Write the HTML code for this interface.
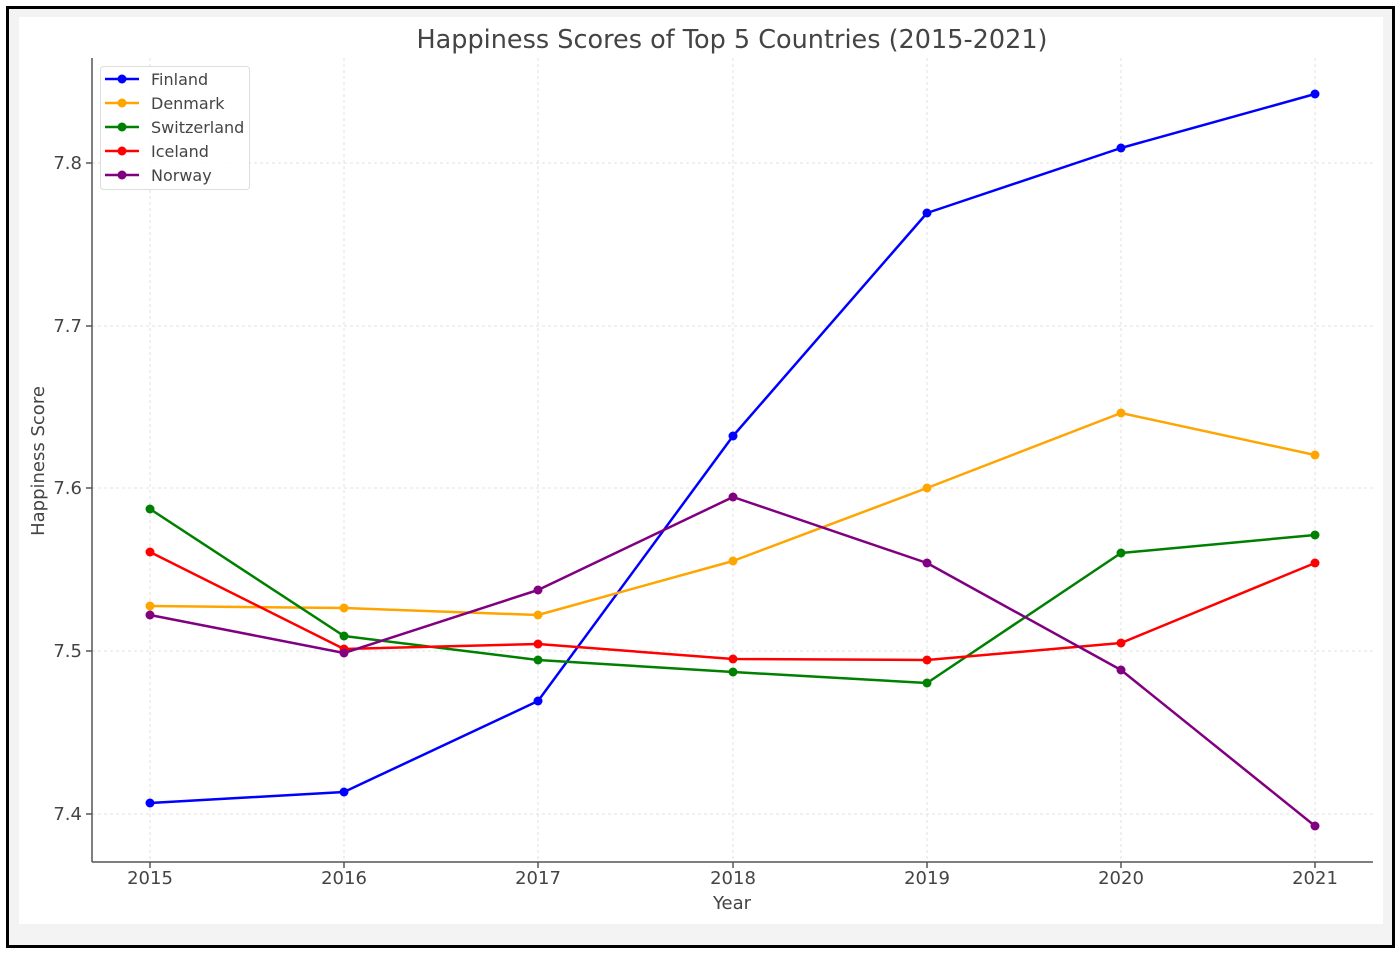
<!DOCTYPE html>
<html><head><meta charset="utf-8"><style>
html,body{margin:0;padding:0;background:#fff;}
svg{display:block;font-family:"DejaVu Sans","Liberation Sans",sans-serif;}
</style></head><body>
<svg width="1400" height="956" viewBox="0 0 1400 956" xmlns="http://www.w3.org/2000/svg">
<rect x="0" y="0" width="1400" height="956" fill="#fff"/>
<rect x="7.5" y="7.5" width="1386" height="939" fill="#f3f3f3" stroke="#000" stroke-width="3"/>
<rect x="19" y="17" width="1364" height="907" fill="#fff"/>
<g stroke="#e2e2e2" stroke-width="1" stroke-dasharray="3,3">
<line x1="150" y1="58" x2="150" y2="862"/><line x1="344" y1="58" x2="344" y2="862"/><line x1="538" y1="58" x2="538" y2="862"/><line x1="733" y1="58" x2="733" y2="862"/><line x1="927" y1="58" x2="927" y2="862"/><line x1="1121" y1="58" x2="1121" y2="862"/><line x1="1315" y1="58" x2="1315" y2="862"/>
<line x1="92" y1="163" x2="1373" y2="163"/><line x1="92" y1="326" x2="1373" y2="326"/><line x1="92" y1="488" x2="1373" y2="488"/><line x1="92" y1="651" x2="1373" y2="651"/><line x1="92" y1="814" x2="1373" y2="814"/>
</g>
<g stroke="#555" stroke-width="1.5">
<line x1="92" y1="58" x2="92" y2="862"/><line x1="92" y1="862" x2="1373" y2="862"/>
<line x1="86" y1="163" x2="92" y2="163"/><line x1="86" y1="326" x2="92" y2="326"/><line x1="86" y1="488" x2="92" y2="488"/><line x1="86" y1="651" x2="92" y2="651"/><line x1="86" y1="814" x2="92" y2="814"/>
<line x1="150" y1="862" x2="150" y2="868"/><line x1="344" y1="862" x2="344" y2="868"/><line x1="538" y1="862" x2="538" y2="868"/><line x1="733" y1="862" x2="733" y2="868"/><line x1="927" y1="862" x2="927" y2="868"/><line x1="1121" y1="862" x2="1121" y2="868"/><line x1="1315" y1="862" x2="1315" y2="868"/>
</g>
<g fill="#444" font-size="18">
<g text-anchor="end"><text x="82" y="169">7.8</text><text x="82" y="332">7.7</text><text x="82" y="494">7.6</text><text x="82" y="657">7.5</text><text x="82" y="820">7.4</text></g>
<g text-anchor="middle"><text x="150" y="884">2015</text><text x="344" y="884">2016</text><text x="538" y="884">2017</text><text x="733" y="884">2018</text><text x="927" y="884">2019</text><text x="1121" y="884">2020</text><text x="1315" y="884">2021</text>
<text x="732" y="909">Year</text>
<text x="732" y="48" font-size="25.5">Happiness Scores of Top 5 Countries (2015-2021)</text>
<text transform="translate(44,461) rotate(-90)">Happiness Score</text></g>
</g>
<g fill="none" stroke-width="2.5" stroke-linejoin="round">
<polyline stroke="#0000ff" points="150,803 344,792 538,701 733,436 927,213 1121,148 1315,94"/>
<polyline stroke="#ffa500" points="150,606 344,608 538,615 733,561 927,488 1121,413 1315,455"/>
<polyline stroke="#008000" points="150,509 344,636 538,660 733,672 927,683 1121,553 1315,535"/>
<polyline stroke="#ff0000" points="150,552 344,649 538,644 733,659 927,660 1121,643 1315,563"/>
<polyline stroke="#800080" points="150,615 344,653 538,590 733,497 927,563 1121,670 1315,826"/>
</g>
<g fill="#0000ff"><circle cx="150" cy="803" r="4.5"/><circle cx="344" cy="792" r="4.5"/><circle cx="538" cy="701" r="4.5"/><circle cx="733" cy="436" r="4.5"/><circle cx="927" cy="213" r="4.5"/><circle cx="1121" cy="148" r="4.5"/><circle cx="1315" cy="94" r="4.5"/></g>
<g fill="#ffa500"><circle cx="150" cy="606" r="4.5"/><circle cx="344" cy="608" r="4.5"/><circle cx="538" cy="615" r="4.5"/><circle cx="733" cy="561" r="4.5"/><circle cx="927" cy="488" r="4.5"/><circle cx="1121" cy="413" r="4.5"/><circle cx="1315" cy="455" r="4.5"/></g>
<g fill="#008000"><circle cx="150" cy="509" r="4.5"/><circle cx="344" cy="636" r="4.5"/><circle cx="538" cy="660" r="4.5"/><circle cx="733" cy="672" r="4.5"/><circle cx="927" cy="683" r="4.5"/><circle cx="1121" cy="553" r="4.5"/><circle cx="1315" cy="535" r="4.5"/></g>
<g fill="#ff0000"><circle cx="150" cy="552" r="4.5"/><circle cx="344" cy="649" r="4.5"/><circle cx="538" cy="644" r="4.5"/><circle cx="733" cy="659" r="4.5"/><circle cx="927" cy="660" r="4.5"/><circle cx="1121" cy="643" r="4.5"/><circle cx="1315" cy="563" r="4.5"/></g>
<g fill="#800080"><circle cx="150" cy="615" r="4.5"/><circle cx="344" cy="653" r="4.5"/><circle cx="538" cy="590" r="4.5"/><circle cx="733" cy="497" r="4.5"/><circle cx="927" cy="563" r="4.5"/><circle cx="1121" cy="670" r="4.5"/><circle cx="1315" cy="826" r="4.5"/></g>
<rect x="100.5" y="66.5" width="149" height="123" rx="3" fill="#fff" fill-opacity="0.85" stroke="#ddd"/>
<g stroke-width="2.5">
<line x1="105" y1="79" x2="139" y2="79" stroke="#0000ff"/><circle cx="122" cy="79" r="4.5" fill="#0000ff"/>
<line x1="105" y1="103" x2="139" y2="103" stroke="#ffa500"/><circle cx="122" cy="103" r="4.5" fill="#ffa500"/>
<line x1="105" y1="127" x2="139" y2="127" stroke="#008000"/><circle cx="122" cy="127" r="4.5" fill="#008000"/>
<line x1="105" y1="151" x2="139" y2="151" stroke="#ff0000"/><circle cx="122" cy="151" r="4.5" fill="#ff0000"/>
<line x1="105" y1="175" x2="139" y2="175" stroke="#800080"/><circle cx="122" cy="175" r="4.5" fill="#800080"/>
</g>
<g fill="#444" font-size="16">
<text x="151" y="85">Finland</text><text x="151" y="109">Denmark</text><text x="151" y="133">Switzerland</text><text x="151" y="157">Iceland</text><text x="151" y="181">Norway</text>
</g>
</svg>
</body></html>
